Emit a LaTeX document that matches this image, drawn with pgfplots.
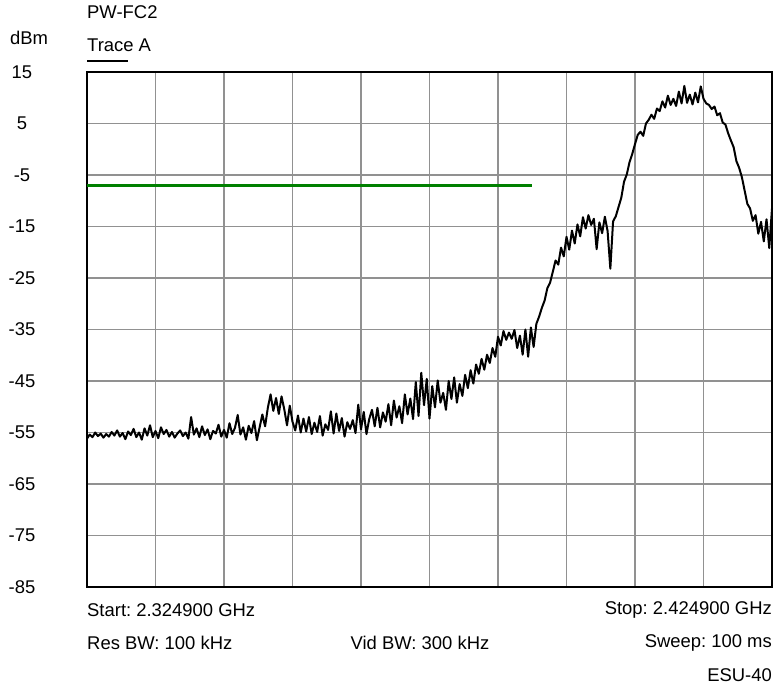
\documentclass[border=0pt]{standalone}
\usepackage{pgfplots}
\pgfplotsset{compat=1.18}
\usepackage{fontspec}
\setmainfont{Liberation Sans}
\definecolor{gridgray}{RGB}{145,145,145}
\definecolor{limgreen}{RGB}{0,128,0}
\frenchspacing
\begin{document}
\begin{tikzpicture}[font=\fontsize{18.5}{22}\selectfont]
\useasboundingbox (-87bp,-101bp) rectangle (687bp,587bp);
\begin{axis}[
    scale only axis,
    width=685bp,
    height=515bp,
    xmin=0, xmax=100,
    ymin=-85, ymax=15,
    xtick={0,10,...,100},
    xticklabels={},
    ytick={-85,-75,...,15},
    grid=major,
    grid style={gridgray, line width=1.5bp},
    major tick length=0pt,
    axis line style={black, line width=1.3bp},
    yticklabel style={anchor=center, xshift=-65bp, font=\fontsize{18.5}{22}\selectfont},
    /pgf/number format/assume math mode=true,
    clip=false
]
    % limit line
    \addplot[limgreen, line width=3bp] coordinates {(0,-7) (65,-7)};

    % Trace A
    \addplot[black, line width=2bp, line join=round] coordinates {
    (0,-56.2) (0.4,-55.4) (0.8,-55.9) (1.2,-55.0) (1.6,-55.7) (2.0,-55.2) (2.4,-56.0) (2.8,-55.3) (3.2,-55.8) (3.6,-54.9)
    (4.0,-55.6) (4.4,-54.6) (4.8,-55.8) (5.2,-55.1) (5.6,-56.3) (6.0,-54.8) (6.4,-55.5) (6.8,-54.3) (7.2,-55.9) (7.6,-55.0)
    (8.0,-56.4) (8.4,-54.2) (8.8,-55.6) (9.2,-53.6) (9.6,-55.9) (10.0,-54.7) (10.4,-56.1) (10.8,-54.0) (11.2,-55.3) (11.6,-54.5)
    (12.0,-55.8) (12.4,-54.9) (12.8,-56.0) (13.2,-55.2) (13.6,-54.6) (14.0,-55.7) (14.4,-55.0) (14.8,-56.2) (15.2,-52.0) (15.6,-55.4)
    (16.0,-54.2) (16.4,-55.9) (16.8,-53.8) (17.2,-55.5) (17.6,-54.4) (18.0,-56.3) (18.4,-54.7) (18.8,-55.2) (19.2,-53.5) (19.6,-55.8)
    (20.0,-54.5) (20.4,-56.0) (20.8,-53.2) (21.2,-55.3) (21.6,-54.1) (22.0,-51.6) (22.4,-55.4) (22.8,-54.0) (23.2,-56.4) (23.6,-53.7)
    (24.0,-55.1) (24.4,-52.8) (24.8,-56.5) (25.2,-54.0) (25.6,-51.5) (26.0,-53.8) (26.4,-50.2) (26.8,-47.6) (27.2,-50.8) (27.6,-48.3)
    (28.0,-51.4) (28.4,-48.0) (28.8,-50.5) (29.2,-53.6) (29.6,-49.8) (30.0,-52.9) (30.4,-54.6) (30.8,-51.7) (31.2,-55.0) (31.6,-52.3)
    (32.0,-54.8) (32.4,-52.0) (32.8,-55.3) (33.2,-53.1) (33.6,-54.9) (34.0,-51.8) (34.4,-55.6) (34.8,-53.4) (35.2,-54.5) (35.6,-50.9)
    (36.0,-55.2) (36.4,-51.3) (36.8,-54.7) (37.2,-52.2) (37.6,-55.8) (38.0,-53.0) (38.4,-54.3) (38.8,-52.6) (39.2,-55.1) (39.6,-49.6)
    (40.0,-54.4) (40.4,-51.0) (40.8,-55.3) (41.2,-52.4) (41.6,-50.6) (42.0,-53.8) (42.4,-50.2) (42.8,-54.0) (43.2,-51.1) (43.6,-52.9)
    (44.0,-49.5) (44.4,-53.6) (44.8,-48.8) (45.2,-52.1) (45.6,-49.9) (46.0,-53.2) (46.4,-47.6) (46.8,-51.5) (47.2,-48.4) (47.6,-52.4)
    (48.0,-45.2) (48.4,-51.8) (48.8,-43.4) (49.2,-49.7) (49.6,-44.6) (50.0,-52.3) (50.4,-46.0) (50.8,-50.1) (51.2,-44.9) (51.6,-49.2)
    (52.0,-47.3) (52.4,-50.6) (52.8,-45.0) (53.2,-48.5) (53.6,-44.3) (54.0,-49.2) (54.4,-45.6) (54.8,-47.9) (55.2,-43.8) (55.6,-46.4)
    (56.0,-42.9) (56.4,-45.5) (56.8,-41.8) (57.2,-43.6) (57.6,-40.7) (58.0,-42.8) (58.4,-39.9) (58.8,-41.5) (59.2,-38.6) (59.6,-40.3)
    (60.0,-36.4) (60.4,-38.1) (60.8,-35.3) (61.2,-37.0) (61.6,-35.6) (62.0,-36.8) (62.4,-35.1) (62.8,-38.6) (63.2,-36.2) (63.6,-39.9)
    (64.0,-35.0) (64.4,-40.3) (64.8,-34.6) (65.2,-38.4) (65.6,-33.9) (66.0,-32.5) (66.4,-30.8) (66.8,-29.4) (67.2,-27.0) (67.6,-25.9)
    (68.0,-23.8) (68.4,-21.6) (68.8,-22.4) (69.2,-19.1) (69.6,-20.8) (70.0,-17.0) (70.4,-19.5) (70.8,-15.8) (71.2,-18.3) (71.6,-14.6)
    (72.0,-16.9) (72.4,-13.2) (72.8,-15.4) (73.2,-12.8) (73.6,-14.7) (74.0,-13.5) (74.4,-19.4) (74.8,-14.2) (75.2,-16.3) (75.6,-13.1)
    (76.0,-15.9) (76.4,-23.2) (76.8,-14.0) (77.2,-13.0) (77.6,-11.2) (78.0,-9.4) (78.4,-6.3) (78.8,-4.9) (79.2,-2.5) (79.6,-0.9)
    (80.0,1.0) (80.4,2.8) (80.8,3.4) (81.2,2.6) (81.6,5.0) (82.0,5.7) (82.4,6.7) (82.8,5.9) (83.2,7.9) (83.6,7.4)
    (84.0,9.3) (84.4,8.1) (84.8,10.4) (85.2,8.6) (85.6,9.8) (86.0,8.4) (86.4,11.2) (86.8,8.9) (87.2,12.3) (87.6,9.0)
    (88.0,10.6) (88.4,8.7) (88.8,11.0) (89.2,9.1) (89.6,12.2) (90.0,9.8) (90.4,8.9) (90.8,8.6) (91.2,7.8) (91.6,8.3)
    (92.0,6.6) (92.4,7.0) (92.8,5.2) (93.2,4.8) (93.6,3.1) (94.0,1.7) (94.4,0.4) (94.8,-2.3) (95.2,-3.6) (95.6,-5.4)
    (96.0,-8.0) (96.4,-10.6) (96.8,-11.5) (97.2,-13.9) (97.6,-12.8) (98.0,-16.4) (98.4,-14.1) (98.8,-17.9) (99.2,-13.6) (99.6,-19.2)
    (100,-11.5)
    };

    % header and footer texts
    \node[anchor=west, inner sep=0, yshift=60bp] at (rel axis cs:0,1) {PW-FC2};
    \node[anchor=west, inner sep=0, yshift=27bp] at (rel axis cs:0,1) {Trace A};
    \node[anchor=center, inner sep=0, xshift=-58bp, yshift=34bp] at (rel axis cs:0,1) {dBm};
    \node[anchor=west, inner sep=0, yshift=-23bp] at (rel axis cs:0,0) {Start: 2.324900 GHz};
    \node[anchor=east, inner sep=0, yshift=-23bp] at (rel axis cs:1,0) {Stop: 2.424900 GHz};
    \node[anchor=west, inner sep=0, yshift=-56bp] at (rel axis cs:0,0) {Res BW: 100 kHz};
    \node[anchor=center, inner sep=0, xshift=333bp, yshift=-56bp] at (rel axis cs:0,0) {Vid BW: 300 kHz};
    \node[anchor=east, inner sep=0, yshift=-56bp] at (rel axis cs:1,0) {Sweep: 100 ms};
    \node[anchor=east, inner sep=0, yshift=-88bp] at (rel axis cs:1,0) {ESU-40};
\end{axis}
% underline of the trace name
\draw[black, line width=1.3bp] (0,526bp) -- (41bp,526bp);
\end{tikzpicture}
\end{document}
